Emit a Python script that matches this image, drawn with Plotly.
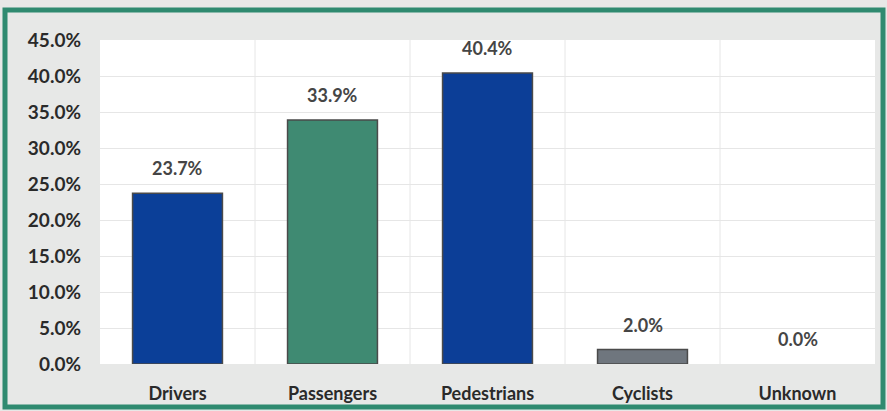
import plotly.graph_objects as go

categories = ["Drivers", "Passengers", "Pedestrians", "Cyclists", "Unknown"]
values = [23.7, 33.9, 40.4, 2.0, 0.0]
bar_colors = ["#0b3f98", "#3f8a72", "#0c3e97", "#6f767e", "#6f767e"]
y_ticks = [0, 5, 10, 15, 20, 25, 30, 35, 40, 45]
y_tick_labels = [f"{v:.1f}%" for v in y_ticks]
labels = [f"{v:.1f}%" for v in values]

W, H = 887, 411
ml, mr, mt, mb = 100, 12, 40, 47
pw, ph = W - ml - mr, H - mt - mb

fig = go.Figure(go.Bar(
    x=categories, y=values, width=0.58,
    marker=dict(color=bar_colors,
                line=dict(color="#4a4a4a", width=[1.5 if v > 0 else 0 for v in values])),
))

for c, v, t in zip(categories, values, labels):
    fig.add_annotation(x=c, y=v, text=t, showarrow=False, yanchor="bottom", yshift=12,
                       font=dict(family="Lato", size=18, color="#454545", weight="bold"))

def px(x):
    return (x - ml) / pw

def py(y):
    return (H - mb - y) / ph

fig.update_layout(
    width=W, height=H,
    margin=dict(l=ml, r=mr, t=mt, b=mb, autoexpand=False),
    paper_bgcolor="#e7e8e7", plot_bgcolor="#ffffff",
    showlegend=False,
    xaxis=dict(showgrid=False, tickfont=dict(family="Lato", size=18, color="#2a2a2a", weight="bold"),
               ticks="", showline=False, zeroline=False, ticklabelstandoff=17, automargin=False),
    yaxis=dict(range=[0, 45], tickvals=y_ticks, ticktext=y_tick_labels,
               tickfont=dict(family="Lato", size=19, color="#2a2a2a", weight="bold"),
               gridcolor="#e6e6e6", gridwidth=1, zeroline=False, showline=False, ticks="",
               ticklabelstandoff=18, automargin=False),
    shapes=[
        dict(type="rect", xref="paper", yref="paper",
             x0=px(5), x1=px(883), y0=py(407), y1=py(10),
             line=dict(color="#2f8a70", width=5), fillcolor="rgba(0,0,0,0)", layer="above"),
    ] + [
        dict(type="line", xref="x", yref="paper", x0=i + 0.5, x1=i + 0.5, y0=0, y1=1,
             line=dict(color="#e6e6e6", width=1), layer="below")
        for i in range(len(categories) - 1)
    ],
)

fig.write_html("out.html")
